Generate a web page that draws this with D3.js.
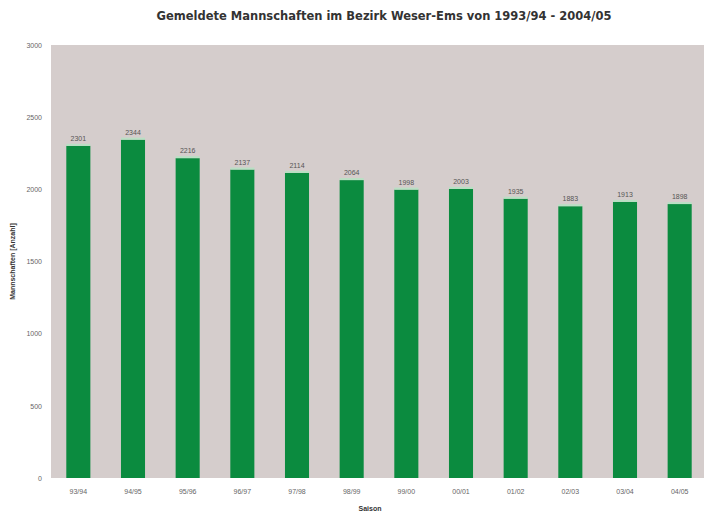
<!DOCTYPE html>
<html>
<head>
<meta charset="utf-8">
<script src="https://cdn.jsdelivr.net/npm/d3@7"></script>
<style>
  body { margin: 0; background: #fff; }
  text { font-family: "Liberation Sans", Arial, sans-serif; }
</style>
</head>
<body>
<svg id="chart" width="705" height="515"></svg>
<script>
const seasons = ["93/94", "94/95", "95/96", "96/97", "97/98", "98/99",
                 "99/00", "00/01", "01/02", "02/03", "03/04", "04/05"];
const teams = [2301, 2344, 2216, 2137, 2114, 2064, 1998, 2003, 1935, 1883, 1913, 1898];
const yTicks = [0, 500, 1000, 1500, 2000, 2500, 3000];

const width = 705, height = 515;
const margin = { top: 45, right: 1, bottom: 37, left: 51 };

const svg = d3.select("#chart");

// plot background
svg.append("rect")
    .attr("x", margin.left)
    .attr("y", margin.top)
    .attr("width", width - margin.left - margin.right)
    .attr("height", height - margin.top - margin.bottom)
    .attr("fill", "#d5cdcc");

const x = d3.scaleBand()
    .domain(seasons)
    .range([margin.left, width + 2])
    .paddingInner(0.56)
    .paddingOuter(0.28);

const y = d3.scaleLinear()
    .domain([0, 3000])
    .range([height - margin.bottom, margin.top]);

const data = seasons.map((s, i) => ({ season: s, value: teams[i] }));

// bars
svg.append("g").selectAll("rect")
    .data(data)
    .join("rect")
    .attr("x", d => x(d.season))
    .attr("y", d => y(d.value))
    .attr("width", x.bandwidth())
    .attr("height", d => y(0) - y(d.value))
    .attr("fill", "#0b8b3f");

// light top edge of the bars
svg.append("g").selectAll("rect")
    .data(data)
    .join("rect")
    .attr("x", d => x(d.season))
    .attr("y", d => y(d.value) - 2)
    .attr("width", x.bandwidth())
    .attr("height", 2)
    .attr("fill", "#b9e0c4");

// value labels
svg.append("g").selectAll("text")
    .data(data)
    .join("text")
    .attr("x", d => x(d.season) + x.bandwidth() / 2)
    .attr("y", d => y(d.value) - 5)
    .attr("text-anchor", "middle")
    .attr("font-size", 7)
    .attr("fill", "#555")
    .text(d => d.value);

// y axis
const yAxis = svg.append("g")
    .attr("transform", "translate(" + (margin.left - 9) + ",0)")
    .call(d3.axisLeft(y).tickValues(yTicks).tickFormat(d3.format("d")).tickSize(0).tickPadding(0));
yAxis.select(".domain").remove();
yAxis.selectAll("text").attr("font-size", 7).attr("fill", "#666")
    .style("font-family", "Liberation Sans, Arial, sans-serif");

// x axis
const xAxis = svg.append("g")
    .attr("transform", "translate(0," + (height - margin.bottom) + ")")
    .call(d3.axisBottom(x).tickSize(0).tickPadding(11));
xAxis.select(".domain").remove();
xAxis.selectAll("text").attr("font-size", 7).attr("fill", "#666")
    .style("font-family", "Liberation Sans, Arial, sans-serif");

// titles
svg.append("text")
    .attr("x", 384)
    .attr("y", 20)
    .attr("text-anchor", "middle")
    .attr("font-size", 11.5)
    .attr("font-weight", "bold")
    .attr("fill", "#333")
    .style("font-family", "DejaVu Sans, sans-serif")
    .text("Gemeldete Mannschaften im Bezirk Weser-Ems von 1993/94 - 2004/05");

svg.append("text")
    .attr("x", 370)
    .attr("y", 511)
    .attr("text-anchor", "middle")
    .attr("font-size", 7)
    .attr("font-weight", "bold")
    .attr("fill", "#333")
    .text("Saison");

svg.append("text")
    .attr("transform", "translate(15," + (margin.top + (height - margin.bottom - margin.top) / 2) + ") rotate(-90)")
    .attr("text-anchor", "middle")
    .attr("font-size", 7)
    .attr("font-weight", "bold")
    .attr("fill", "#333")
    .text("Mannschaften [Anzahl]");
</script>
</body>
</html>
